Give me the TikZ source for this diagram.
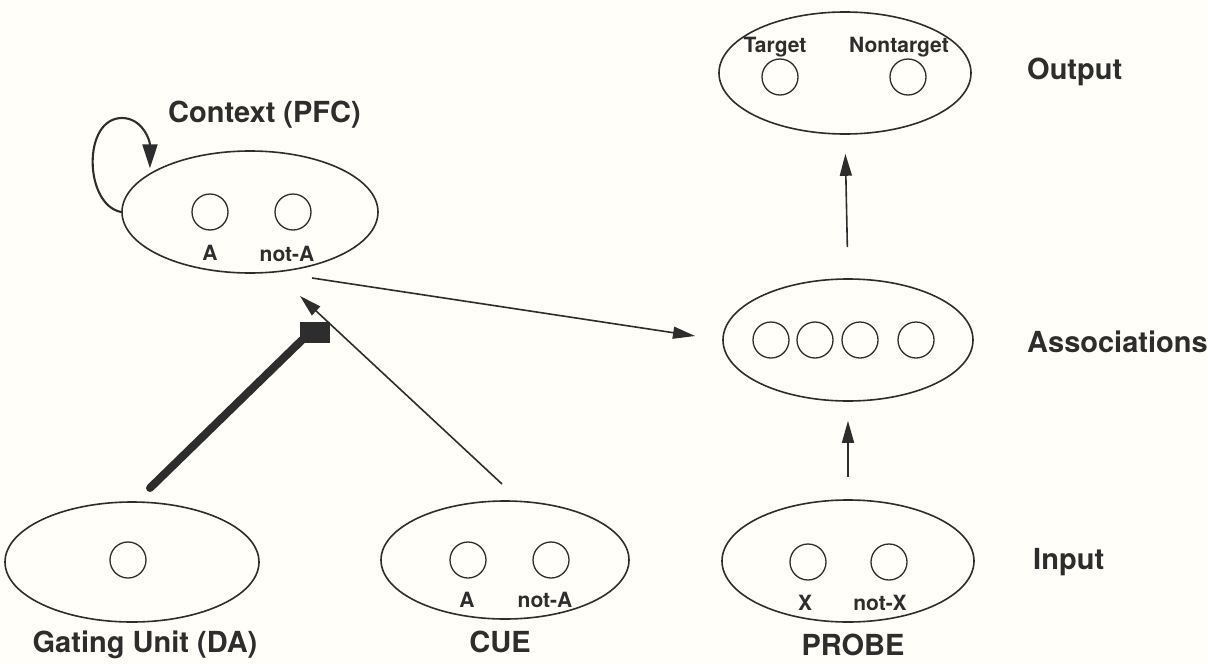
\documentclass[tikz,border=0pt]{standalone}
\usepackage{fontspec}
\setmainfont{TeX Gyre Heros}
\usetikzlibrary{shapes.geometric,arrows.meta}
\definecolor{ink}{RGB}{45,45,45}
\definecolor{paper}{RGB}{255,254,248}
\begin{document}
\begin{tikzpicture}[x=1pt,y=-1pt,
  layer/.style={ellipse,draw=ink,line width=1.6pt,inner sep=0pt},
  unit/.style={circle,draw=ink,line width=1.3pt,minimum size=36pt,inner sep=0pt},
  big/.style={text=ink,font=\bfseries\fontsize{29}{34}\selectfont,inner sep=0pt},
  small/.style={text=ink,font=\bfseries\fontsize{21}{25}\selectfont,inner sep=0pt},
  arr/.style={draw=ink,line width=1.6pt,-{Triangle[length=22pt,width=12pt]}},
]
\fill[paper] (0,0) rectangle (1208,664);
\useasboundingbox (0,0) rectangle (1208,664);

% Context (PFC)
\node[layer,minimum width=256pt,minimum height=122pt] (ctx) at (250,212) {};
\node[unit] (ctxA) at (210,212) {};
\node[unit] (ctxN) at (293,212) {};
\node[small] (ctxAl) at (210,253) {A};
\node[small] (ctxNl) at (287,254) {not-A};
\node[big,anchor=west] (ctxl) at (168,115) {Context (PFC)};
\draw[arr,line width=2.1pt,-{Triangle[length=24pt,width=15pt]}] (ctx.west) .. controls (84,205) and (82,118) .. (122,118)
  .. controls (142,118) and (150,140) .. ([xshift=-9pt]ctx.north west);

% Output
\node[layer,minimum width=252pt,minimum height=122pt] (out) at (845,73) {};
\node[unit] (outT) at (780,77) {};
\node[unit] (outN) at (908,77) {};
\node[small] (outTl) at (775,47) {Target};
\node[small] (outNl) at (899,47) {Nontarget};
\node[big,anchor=west] (outl) at (1027,72) {Output};

% Associations
\node[layer,minimum width=250pt,minimum height=122pt] (assoc) at (848,340) {};
\node[unit] (as1) at (771,340) {};
\node[unit] (as2) at (815,340) {};
\node[unit] (as3) at (860,340) {};
\node[unit] (as4) at (916,340) {};
\node[big,anchor=west] (assocl) at (1027,342) {Associations};

% Probe / Input
\node[layer,minimum width=252pt,minimum height=122pt] (probe) at (848,561) {};
\node[unit] (prX) at (808,562) {};
\node[unit] (prN) at (889,562) {};
\node[small] (prXl) at (805,603) {X};
\node[small] (prNl) at (880,603) {not-X};
\node[big] (probel) at (853,645) {PROBE};
\node[big,anchor=west] (inl) at (1033,562) {Input};

% Cue
\node[layer,minimum width=248pt,minimum height=118pt] (cue) at (505,560) {};
\node[unit] (cuA) at (468,560) {};
\node[unit] (cuN) at (551,560) {};
\node[small] (cuAl) at (467,600) {A};
\node[small] (cuNl) at (545,600) {not-A};
\node[big] (cuel) at (500,642) {CUE};

% Gating unit
\node[layer,minimum width=254pt,minimum height=120pt] (gating) at (132,562) {};
\node[unit] (gU) at (128,560) {};
\node[big] (gatingl) at (145,645) {Gating Unit (DA)};

% gate
\coordinate (gstart) at (150,488);
\draw[ink,line width=8pt,line cap=round] (gstart) -- (302,340);
\node[fill=ink,minimum width=30pt,minimum height=21pt,inner sep=0pt] (gate) at (315,332) {};

% connectors
\coordinate (cueS) at (502,484);
\coordinate (cueT) at (300,296);
\draw[arr] (cueS) -- (cueT);
\coordinate (ctxS) at (312,278);
\coordinate (asT) at (695,336);
\draw[arr] (ctxS) -- (asT);
\draw[arr,shorten <=22pt,shorten >=19pt] (probe.north) -- (assoc.south);
\draw[arr,shorten <=31pt,shorten >=19pt] (assoc.north) -- (out.south);
\end{tikzpicture}
\end{document}
